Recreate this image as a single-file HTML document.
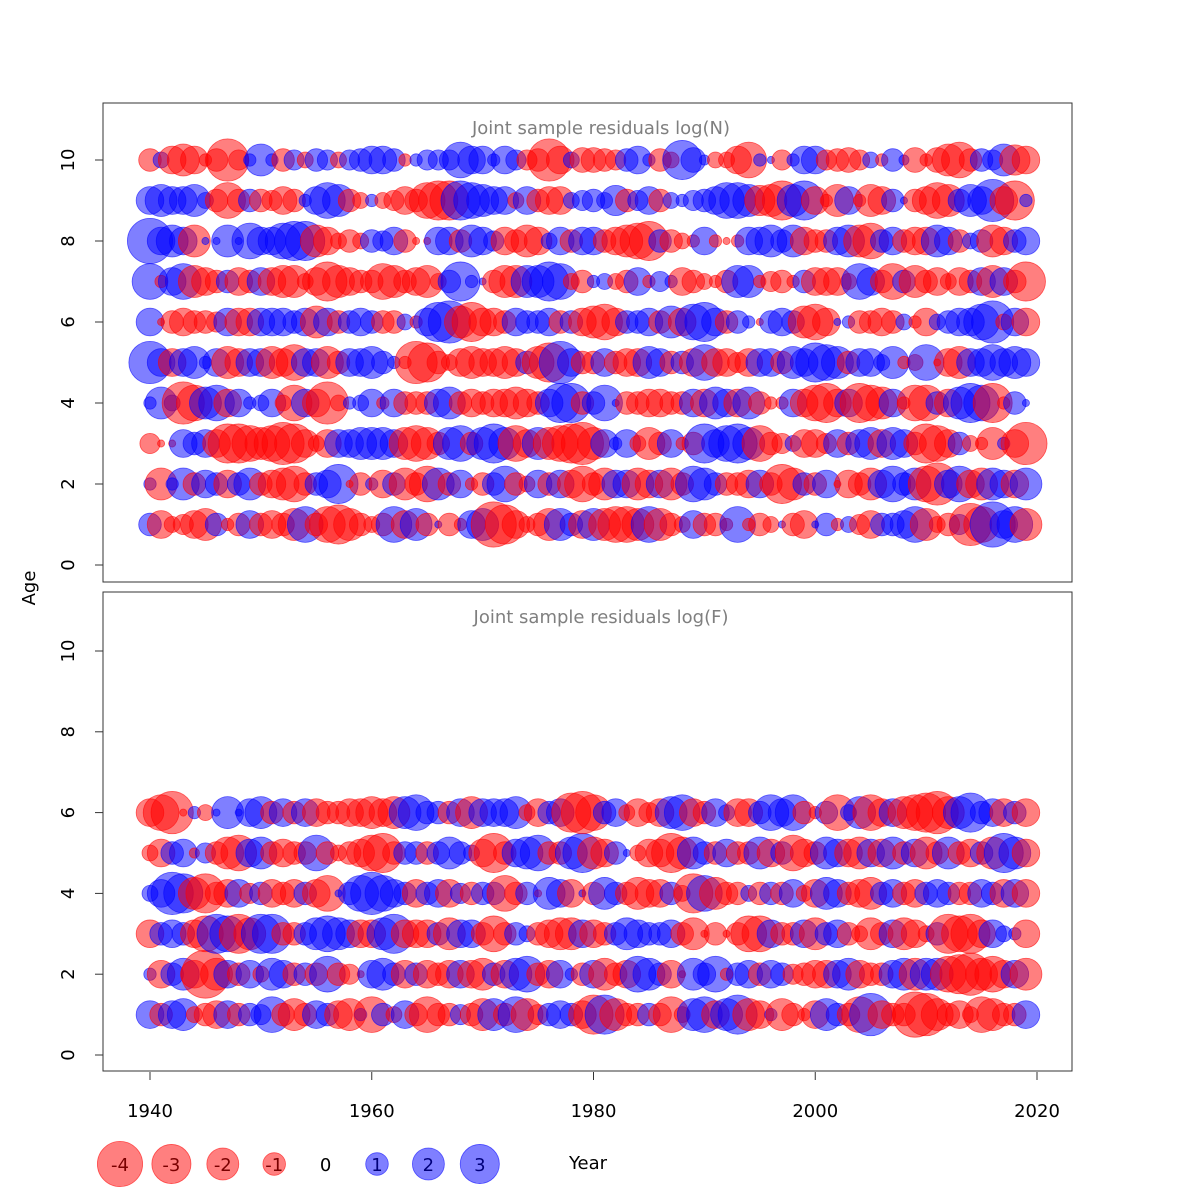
<!DOCTYPE html>
<html><head><meta charset="utf-8"><style>
html,body{margin:0;padding:0;background:#fff;}
svg{display:block;font-family:"DejaVu Sans","Liberation Sans",sans-serif;}
</style></head><body>
<svg id="chart" width="1200" height="1200" viewBox="0 0 1200 1200" xmlns="http://www.w3.org/2000/svg">
<rect width="1200" height="1200" fill="#fff"/>
<g id="panelN"></g>
<g id="panelF"></g>
<g id="axes"></g>
<g id="legend"></g>
</svg>
<script>
const years = Array.from({length:80},(_, i)=>1940+i);
const xTicks = [1940,1960,1980,2000,2020];
const yTicks = [0,2,4,6,8,10];
const legendValues = [-4,-3,-2,-1,0,1,2,3];
const residN_age10 = [-1,0.5,-1.5,-2,-1.5,-0.3,-1,-3.5,-0.8,0.3, 2,0.3,-1,0.8,-0.5,1,0.8,-0.5,0.8,1, 1.5,1.5,1,-0.3,0.3,0.8,0.8,0.8,2.5,1.5, 1.5,0.3,1.5,0.8,-0.8,-1,-3.5,-1.5,0.5,-1.2, -1.2,-1,-0.8,1,1.5,0.3,-1,-0.5,3,1.2, 0.2,-0.5,-0.5,-1.5,-2.5,0.3,0.1,-0.8,0.3,1.5, 1.5,-0.8,-1,-1.2,-0.8,0.5,-0.3,1,0.2,-1.2, -0.3,-1.2,-2,-2.5,-1,1,0.8,2,-1.8,-1.5];
const residN_age9 = [1.5,2,1.5,1.5,2,0.5,-1,-2.5,-1,1, -1,-0.8,-1.5,-1,0.3,1.5,2.5,2,-1,-0.5, 0.3,-0.5,-0.8,-1.5,-1,-2.5,-3,-3,3,2.5, 2,1.5,1.5,-0.5,1.5,-1,-1.5,-1.5,0.5,0.8, 1,0.5,1.8,-1,0.8,1.5,-1,0.5,0.3,0.8, 1,1.5,2.5,2.5,2,-1.8,-2,-3,2,3, -1.5,-0.3,-2,1.5,-0.3,-2,-1.5,1,0.1,-1, -1.5,-2.5,-2,1,2,1.5,3.5,-1.5,-3,0.3];
const residN_age8 = [4,1.5,2,1.5,-2,0.1,0.1,2,0.1,2.5, 1.5,1.5,2.5,3,3,-2,-1.5,-0.5,-1,-0.5, 1,0.8,1.5,-1,-0.1,-0.1,1.5,1.5,-1,2, 1.5,0.8,-1.5,-1,-2,-1.5,0.5,1.5,-1,1.5, 1.5,-1,-1.5,-2,-2.5,-3,1,-1,-0.5,-0.3, 1.5,-0.3,-0.1,-0.3,1.5,1.5,2,1,2,-1.5, -1,-1,1.5,2,-2,-2.5,1,1.5,-1,-1.5, -1.5,2,1.5,-1,0.5,1,-2,-1.5,1,1.5];
const residN_age7 = [2.5,-0.3,1.5,2.5,-2,-1.5,-1,1,-1.5,-1, 1.5,-1.5,-2,-2,-0.5,-1.5,-3,-2,-1.5,-1, -1,-2.5,-2,-1,-1.5,-2,-0.5,1,3,0.3, 0.1,-1,-2,-2,2,2,3,2.5,-0.5,-1, 0.3,0.5,-0.5,-1,1.5,-0.3,0.8,0.3,-1.5,-1, -0.5,-0.3,-1,2,2,-0.3,-0.8,-1,-0.3,1, -1.5,-1.5,-1.5,-0.5,2.5,1.5,-1,-2.5,1,-2, -1,-1.5,-0.5,-1.5,-1,1.5,-2,1.5,-1,-3];
const residN_age6 = [1.5,-0.1,-1,-1.5,-1,-1,-0.8,1.5,-1.5,-1.5, 1.5,1.5,1.5,1,1.5,-2,1.5,-1,1,1.5, 1,-1,-1,0.5,-0.3,1.5,3,3.5,-2,-3, -1.5,-1.5,-1,1.5,1,1,1.5,-1,1,-1.5, -2,-2.5,-1.5,1,1,1.5,-1,2,-1.5,2.5, 3,1.5,-1,1,0.3,-0.1,1,1.5,1,-2, -2.5,-1.5,0.1,0.3,-1,-1,-1.5,-1,0.5,-0.3, -1.5,0.5,1,1.5,1.5,2.5,3.5,-0.5,1.5,-1.5];
const residN_age5 = [3.5,1.5,-1.5,1.5,2,0.3,1.5,-2,-1.5,1.5, 1.5,-2,-1.5,-2.5,1.5,1.5,-2,-1,1.5,1.5, 2,1,0.3,-0.3,-3.5,-3,-1,-0.5,-1.5,-2, -1.5,-1.5,-2,-1.5,1,-2,-3,3.5,1.5,-1, -1,1.5,-1,-1.5,-1.5,2,1.5,-1,1,-1.5, 2.5,-1.5,-1.5,-0.8,-1.5,1.5,1.5,-1,2,1.5, 3,2.5,2,-1,1.5,1.5,0.5,2,-0.3,-0.5, 2.5,-0.1,-1.5,-2,1.5,1.5,2.5,1.5,2,1.5];
const residN_age4 = [0.3,2,0.5,-3.5,-2.5,2,2.5,-1.5,1.5,0.3, 0.5,1.5,-0.5,-2.5,1.5,-1.5,-3.5,-0.5,0.3,0.5, 1.5,-0.3,1.5,-1,-1,-1,1.5,2,-1,-1.5, -1,-1.5,-1.5,-2,-1.5,-1,1.5,3,3,-1, 1,2.5,0.1,-1,-1,-1.5,-1.5,-1,-1,1.5, -1.5,2,1.5,-1.5,2,-1,-0.3,-0.3,1.5,-1.5, -2.5,-3,-1.5,1.5,-3,-2.5,-2,1.5,-0.3,-2.5, -2.5,1,-1.5,2,3,2.5,-3,-0.3,1,0.1];
const residN_age3 = [-0.8,-0.1,-0.1,1.5,1,1.5,-1.5,-3,-3,-2.5, -2,-2.5,-3.5,-3,-1.5,-0.5,-1.5,1.5,1.5,2, 2,2,1.5,-2,-2.5,-2,-1,2,2.5,-1, 2,3,2,-2.5,-1.5,2,-2,-2.5,-3,-3.5, -2,1.5,0.3,1.5,-0.5,-2,-1,1.5,-0.3,-1, 3,1.5,2.5,3,2,-2.5,-1,-0.8,0.5,-1.5, -1.5,-0.8,1.5,-1,1.5,2,-1.5,2,1.5,-1, -3,-2.5,-1.5,1,-0.5,-0.3,-2,0.3,-1.5,-3.5];
const residN_age2 = [0.3,-2,0.3,2,-1,1.5,1,-1.5,1,2, -1,-1.5,-2,-2.5,-1,1,1.5,3,-0.1,-1, 0.3,-1.5,1,-2,-1,-2.5,2,-1,1.5,-0.3, -1,1,2.5,-1,-0.5,1.5,-1,1.5,-1.5,-2.5, -1,-2,1.5,1.5,-2,-1.5,1.5,-2,-1,2.5, 2,1,-1,-1,-1.5,1.5,-1,-3,-2,1, -1,1.5,-0.1,-1.5,-1,-2,1.5,2.5,1,2, -2.5,-3.5,1.5,2.5,-1.5,-2,2,1.5,-1.5,2];
const residN_age1 = [1,-1.5,-0.5,-0.8,-1.5,-2,1,-0.3,-1,1.5, -1,-1.5,-1,-2,2.5,-1,-2.5,-3,-2,-1, -0.5,-1,2.5,-1.5,2,-1,0.1,-1,-0.3,1.5, 2,-4,-3,-1.5,-0.5,-1,-2,2,1,-1.5, 2,-2,-2.5,-2.5,-2,2.5,-2,-1,-0.5,1.5, -1,-1,-0.3,2.5,-0.3,-1,-0.5,0.1,-1,-1.5, 0.1,1,-0.3,0.5,-0.8,-1.5,1,1,1.5,2.5, -2,-0.5,-1,0.8,-3.5,-2.5,4,1.5,2.5,-2];
const residF_age6 = [-1.5,-2.5,-3.5,-0.1,0.3,-0.5,0.1,2,0.1,1.5, 2,-1,1.5,-1,1.5,-1.5,-1,-1,-1.5,-1.5, -2,-1.5,-2,2,2.5,1,1,-1,1.5,-2, 1.5,1.5,1.5,2,-0.5,-1.5,1,1.5,-3,-3.5, -2.5,1,1.5,-0.5,-1.5,-0.8,-1.5,2,2.5,-1.5, -1,1.5,0.5,-1.5,-1.5,1,2.5,1.5,2.5,-1, -0.3,1,-2.5,0.5,2,-2.5,-1.5,1.5,-2,-2.5, -3,-3.5,-2,2,3,1,1.5,-1.5,1,-1.5];
const residF_age5 = [-0.5,-1.5,1,1.5,-0.2,0.8,-1,-2,-2.5,1.5, 2,-1,-1.5,-1,-1,2.5,-1,-0.5,-1,-1.5, -2.5,-3,-1,1,1,-1,1,2,1,0.5, -1.5,-3,-1,1.5,2,2.5,-1,-1,2,3, -2,-1.5,1,0.1,-0.5,-1.5,-1.5,-3,-2,2, 1,-1,1.5,-1,-1,2,-1.5,1,-2.5,-1.5, -1,2,1.5,-1.5,-2,1.5,-1.5,2,-1,1.5, -2,-1,2,-1,-1.5,1,-2,3,2,-1.5];
const residF_age4 = [0.5,1.5,3.5,3,-2,-3,-1,-1.5,1.5,-0.8, 1,-1.5,-1,-1.5,1,-1.5,-2.5,0.1,1,2.5, 3.5,2.5,1.5,1,-1.5,1,1.5,-1.5,0.8,-1, 1,1,-2.5,-1,1,-0.1,2,1.5,-1.5,0.1, -1,2,1,-1,-2,-1.5,-1.5,1,-0.5,-3, 2.5,-2,-1,-1,0.5,-1,1,-1,1.5,-0.5, -1.5,2,1.5,-1,-1.5,-2,1,1.5,-1,-1.5, 1,1.5,1,-1,-1,1.5,1,-1.5,1.5,-1.5];
const residF_age3 = [-1.5,1,1.5,1,-1.5,-2.5,3,2.5,-3,-2, 3,3,-1,-1,1,2,2.5,2,1.5,-1.5, -1.5,2,3,-1.5,-1.5,-1.5,1,-2,1.5,1.5, -1,-2.5,-1,1,0.5,-1,-1.5,-2,-2,1.5, -1.5,-1,1,2,1.5,1,1,1.5,-1,-2, -0.1,-1,-0.1,-1,-2.5,-2.5,1.5,-1,-1,1.5, -2,1,1.5,-1,-0.5,-2,-1,1.5,-2,-1.5, -0.5,1,-3,-2.5,-3,-1.5,1.5,0.5,0.3,-1.5];
const residF_age2 = [0.3,-1.5,1,2,-1.5,-4.5,-2,1.5,-1,1.5, -0.5,2,1.5,-1,1,-1,2.5,-1,-0.8,-0.1, 1.5,2,1,-1.5,1,-1.5,-1,-1.5,1.5,-1.5, -2,1,-1.5,2,2.5,-1,-1.5,1.5,0.3,-1, 1.5,-2,-1,-1.5,2.5,2,1,-1.5,-0.1,2, 1,2.5,-0.3,1,1.5,-1,1.5,1,-0.8,-1, -1.5,-1.5,1.5,2,-1.5,-1,-1,1.5,2,-2, 2,2,-2.5,-3,-3.5,-2,-2.5,-1.5,1.5,-2];
const residF_age1 = [1.5,-1,1.5,2,-0.5,-1,-1.5,1.5,-1,1, 0.8,2.5,-1,-2,-1,1.5,1,-1.5,-2,0.3, -2.5,1,-0.5,1.5,-1,-2.5,-1,-1,0.8,-1, -2,2,-1,2.5,-2,-0.8,1,1.5,1,-1.5, -3,3,-2,-1,-1,1,-1,-2.5,-0.5,2, 2.5,-1.5,2,3,-2,-1.5,0.3,-2,-1,-0.3, -1.5,2,1,-1,-2.5,3.5,-1.5,-1,-1,-4, -3.5,-2,-1,-1.5,-0.5,-2.5,-2,-1,-1,1.5];

const rowsN = [residN_age1,residN_age2,residN_age3,residN_age4,residN_age5,residN_age6,residN_age7,residN_age8,residN_age9,residN_age10];
const rowsF = [residF_age1,residF_age2,residF_age3,residF_age4,residF_age5,residF_age6];

const NS='http://www.w3.org/2000/svg';
const xScale = yr => 150 + (yr-1940)*(1037-150)/80;
const yScaleN = a => 565 - a*(565-160)/10;
const yScaleF = a => 1055 - a*(1055-651)/10;
const rScale = v => 11.3*Math.sqrt(Math.abs(v));
function mk(tag, attrs, parent){const e=document.createElementNS(NS,tag);for(const k in attrs)e.setAttribute(k,attrs[k]);parent.appendChild(e);return e;}
const fillFor = v => v<0?'rgba(255,0,0,0.5)':'rgba(0,0,255,0.5)';
const strokeFor = v => v<0?'rgba(255,0,0,0.6)':'rgba(0,0,255,0.6)';

function drawPanel(g, rows, yScale, top, title){
  const box = mk('rect',{x:103,y:top,width:969,height:479,fill:'none',stroke:'#333','stroke-width':1},g);
  
  
  const t = mk('text',{x:601,y:top+31,'text-anchor':'middle','font-size':18,fill:'#7f7f7f'},g);
  t.textContent = title;
  
  
  rows.forEach((vals,ai)=>{
    const age = ai+1;
    vals.forEach((v,yi)=>{
      const c = mk('circle',{cx:xScale(years[yi]),cy:yScale(age),r:rScale(v),fill:fillFor(v),stroke:strokeFor(v),'stroke-width':0.8},g);
      
      
    });
  });
  yTicks.forEach(tv=>{
    const y = yScale(tv);
    const l = mk('line',{x1:103,x2:95,y1:y,y2:y,stroke:'#333'},g);
    
    
    const tx = mk('text',{x:74,y:y,'text-anchor':'middle','font-size':18,fill:'#000',transform:`rotate(-90 74 ${y})`},g);
    tx.textContent = tv;
    
    
  });
}
drawPanel(document.getElementById('panelN'), rowsN, yScaleN, 103, 'Joint sample residuals log(N)');
drawPanel(document.getElementById('panelF'), rowsF, yScaleF, 592, 'Joint sample residuals log(F)');

const ax = document.getElementById('axes');
xTicks.forEach(tv=>{
  const x = xScale(tv);
  const l = mk('line',{x1:x,x2:x,y1:1072,y2:1080,stroke:'#333'},ax);
  
  
  const t = mk('text',{x:x,y:1117,'text-anchor':'middle','font-size':18,fill:'#000'},ax);
  t.textContent = tv;
  
  
});
const at = mk('text',{x:35,y:588,'text-anchor':'middle','font-size':18,fill:'#000',transform:'rotate(-90 35 588)'},ax);
at.textContent='Age';



const lg = document.getElementById('legend');
legendValues.forEach((v,i)=>{
  const x = 120 + i*51.4;
  if(v!==0){
    const c = mk('circle',{cx:x,cy:1164,r:rScale(v),fill:fillFor(v),stroke:strokeFor(v),'stroke-width':0.8},lg);
    
    
  }
  const t = mk('text',{x:x,y:1171,'text-anchor':'middle','font-size':18,fill:v<0?'#7a0000':(v>0?'#00007a':'#000')},lg);
  t.textContent = v;
  
  
});
const yt = mk('text',{x:588,y:1169,'text-anchor':'middle','font-size':18,fill:'#000'},lg);
yt.textContent='Year';


</script>
</body></html>
